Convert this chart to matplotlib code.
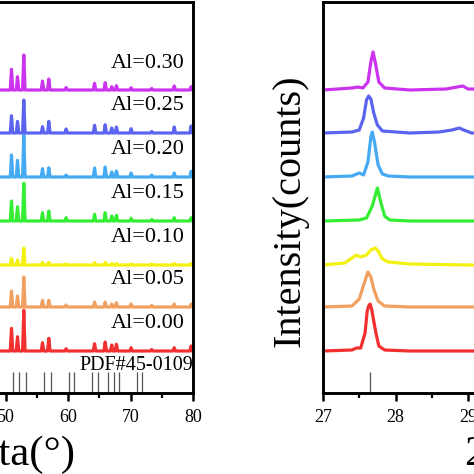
import numpy as np
import matplotlib
matplotlib.use("Agg")
import matplotlib.pyplot as plt
from matplotlib.ticker import MultipleLocator

plt.rcParams['font.family'] = ['Liberation Serif', 'DejaVu Serif']

# samples, bottom to top
labels = ['Al=0.00', 'Al=0.05', 'Al=0.10', 'Al=0.15', 'Al=0.20', 'Al=0.25', 'Al=0.30']
colors = ['#F2302F', '#F0A060', '#F4F010', '#33EE33', '#45AAF2', '#5A64EE', '#CC33EE']
offsets = [0, 44, 86, 130, 174, 218, 261]

# wide scan: peak positions (2theta) and heights per sample
wide_peaks = [50.96, 51.92, 52.93, 55.92, 56.93, 59.7, 64.25, 65.95, 67.0, 67.75, 70.1, 73.4, 77.0, 79.7]
wide_heights = [
    [22.7, 14.3, 40.7, 8.3, 12.7, 2.3, 7.3, 9.0, 6.0, 6.7, 3.3, 1.5, 3.3, 5.0],
    [16.0, 11.0, 30.0, 6.7, 6.7, 2.0, 5.0, 5.0, 3.0, 4.3, 3.0, 1.5, 3.0, 3.0],
    [6.7, 5.0, 17.0, 2.7, 2.5, 1.0, 2.3, 2.7, 1.5, 1.5, 1.0, 1.0, 1.5, 1.5],
    [20.0, 14.3, 37.7, 8.3, 10.0, 3.3, 6.7, 8.3, 5.0, 5.7, 2.7, 1.5, 3.3, 3.3],
    [22.0, 16.7, 41.7, 8.3, 9.3, 2.0, 9.0, 10.0, 5.0, 6.0, 4.0, 2.0, 4.0, 5.7],
    [17.3, 11.7, 33.0, 6.3, 11.7, 4.0, 7.7, 8.3, 5.0, 6.0, 4.3, 1.5, 6.0, 7.0],
    [20.7, 13.3, 35.0, 9.0, 11.0, 2.5, 6.7, 7.3, 3.3, 4.3, 2.3, 1.5, 4.0, 3.3],
]

# PDF#45-0109 reference lines
ref_wide = [51.22, 52.18, 53.25, 56.18, 57.2, 60.1, 61.0, 63.9, 64.8, 66.45, 67.3, 68.2, 71.0, 71.85]
ref_zoom = [27.65]

# narrow scan around 27-30 degrees, read point by point
zoom_x = [
    [27.0, 27.4, 27.46, 27.52, 27.58, 27.61, 27.63, 27.65, 27.67, 27.7, 27.73, 27.77, 27.85, 28.2, 30.0],
    [27.0, 27.4, 27.5, 27.56, 27.62, 27.66, 27.7, 27.76, 27.85, 28.2, 30.0],
    [27.0, 27.3, 27.42, 27.46, 27.52, 27.6, 27.66, 27.72, 27.76, 27.82, 27.9, 28.2, 29.0, 30.0],
    [27.0, 27.5, 27.6, 27.68, 27.75, 27.8, 27.85, 27.92, 28.2, 30.0],
    [27.0, 27.4, 27.5, 27.56, 27.62, 27.66, 27.68, 27.71, 27.76, 27.82, 27.9, 28.2, 30.0],
    [27.0, 27.4, 27.5, 27.56, 27.6, 27.63, 27.66, 27.7, 27.75, 27.82, 28.2, 28.6, 28.78, 28.88, 28.94, 29.05, 30.0],
    [27.0, 27.4, 27.48, 27.55, 27.62, 27.66, 27.69, 27.72, 27.77, 27.85, 28.2, 28.7, 28.85, 28.93, 29.0, 30.0],
]
zoom_y = [
    [0, 1, 3, 3, 18, 40, 45, 47, 42, 30, 18, 5, 1, 0, 0],
    [0, 1, 8, 22, 35, 30, 18, 6, 1, 0, 0],
    [0, 2, 8, 10, 8, 10, 15, 17, 14, 6, 3, 1, 0, -1],
    [0, 1, 3, 15, 33, 18, 5, 1, 0, 0],
    [0, 1, 4, 2, 15, 40, 45, 35, 12, 3, 1, 0, 0],
    [0, 1, 3, 15, 33, 37, 34, 20, 8, 2, 0, 1, 3, 5, 3, 0, 0],
    [0, 2, 3, 2, 8, 28, 38, 28, 8, 2, 0, 1, 3, 4, 1, 0],
]

fig = plt.figure(figsize=(4.74, 4.74), dpi=100)
ax1 = fig.add_axes([(193 - 437.5) / 474, 81 / 474, 437.5 / 474, 391 / 474])
ax2 = fig.add_axes([323 / 474, 81 / 474, 217.5 / 474, 391 / 474])

# left panel: each peak drawn as base-top-base
for k in range(len(labels)):
    xs = [48.0]
    ys = [0.0]
    for p, h in zip(wide_peaks, wide_heights[k]):
        xs += [p - 0.2, p, p + 0.2]
        ys += [0.0, h, 0.0]
    xs.append(80.0)
    ys.append(1.5)
    ax1.plot(xs, np.array(ys) + offsets[k], color=colors[k], lw=2.3, solid_joinstyle='round')
    ax1.text(78.6, offsets[k] + 27, labels[k], ha='right', va='center', fontsize=16)

ax1.vlines(ref_wide, -42, -21, color='#555555', lw=0.9)
ax1.text(80.0, -14, 'PDF#45-0109', ha='right', va='center', fontsize=14.5)

# right panel
for k in range(len(labels)):
    ax2.plot(zoom_x[k], np.array(zoom_y[k]) + offsets[k], color=colors[k], lw=2.3,
             solid_joinstyle='round')
ax2.vlines(ref_zoom, -42, -21, color='#555555', lw=0.9)

ax1.set_xlim(10, 80)
ax2.set_xlim(27, 30)
for ax in (ax1, ax2):
    ax.set_ylim(-42, 349)
    ax.set_yticks([])
    for s in ax.spines.values():
        s.set_linewidth(2.1)
    ax.tick_params(axis='x', which='major', direction='out', length=5.5, width=1.8,
                   labelsize=13, pad=6)
    ax.tick_params(axis='x', which='minor', direction='out', length=3.5, width=1.6)
ax1.xaxis.set_major_locator(MultipleLocator(10))
ax1.xaxis.set_minor_locator(MultipleLocator(5))
ax2.xaxis.set_major_locator(MultipleLocator(1))
ax2.xaxis.set_minor_locator(MultipleLocator(0.5))

ax1.set_xlabel('2Theta(°)', fontsize=31)
ax1.xaxis.label.set_horizontalalignment('right')
ax1.xaxis.label.set_verticalalignment('center')
ax1.xaxis.set_label_coords(0.73, -0.158)
ax1.set_ylabel('Intensity(counts)', fontsize=29)

ax2.set_xlabel('2Theta(°)', fontsize=31)
ax2.xaxis.label.set_horizontalalignment('left')
ax2.xaxis.label.set_verticalalignment('center')
ax2.xaxis.set_label_coords(0.648, -0.158)
ax2.set_ylabel('Intensity(counts)', fontsize=29)
ax2.yaxis.label.set_verticalalignment('center')
ax2.yaxis.set_label_coords(-0.152, 0.465)

fig.savefig('out.png', dpi=100)
